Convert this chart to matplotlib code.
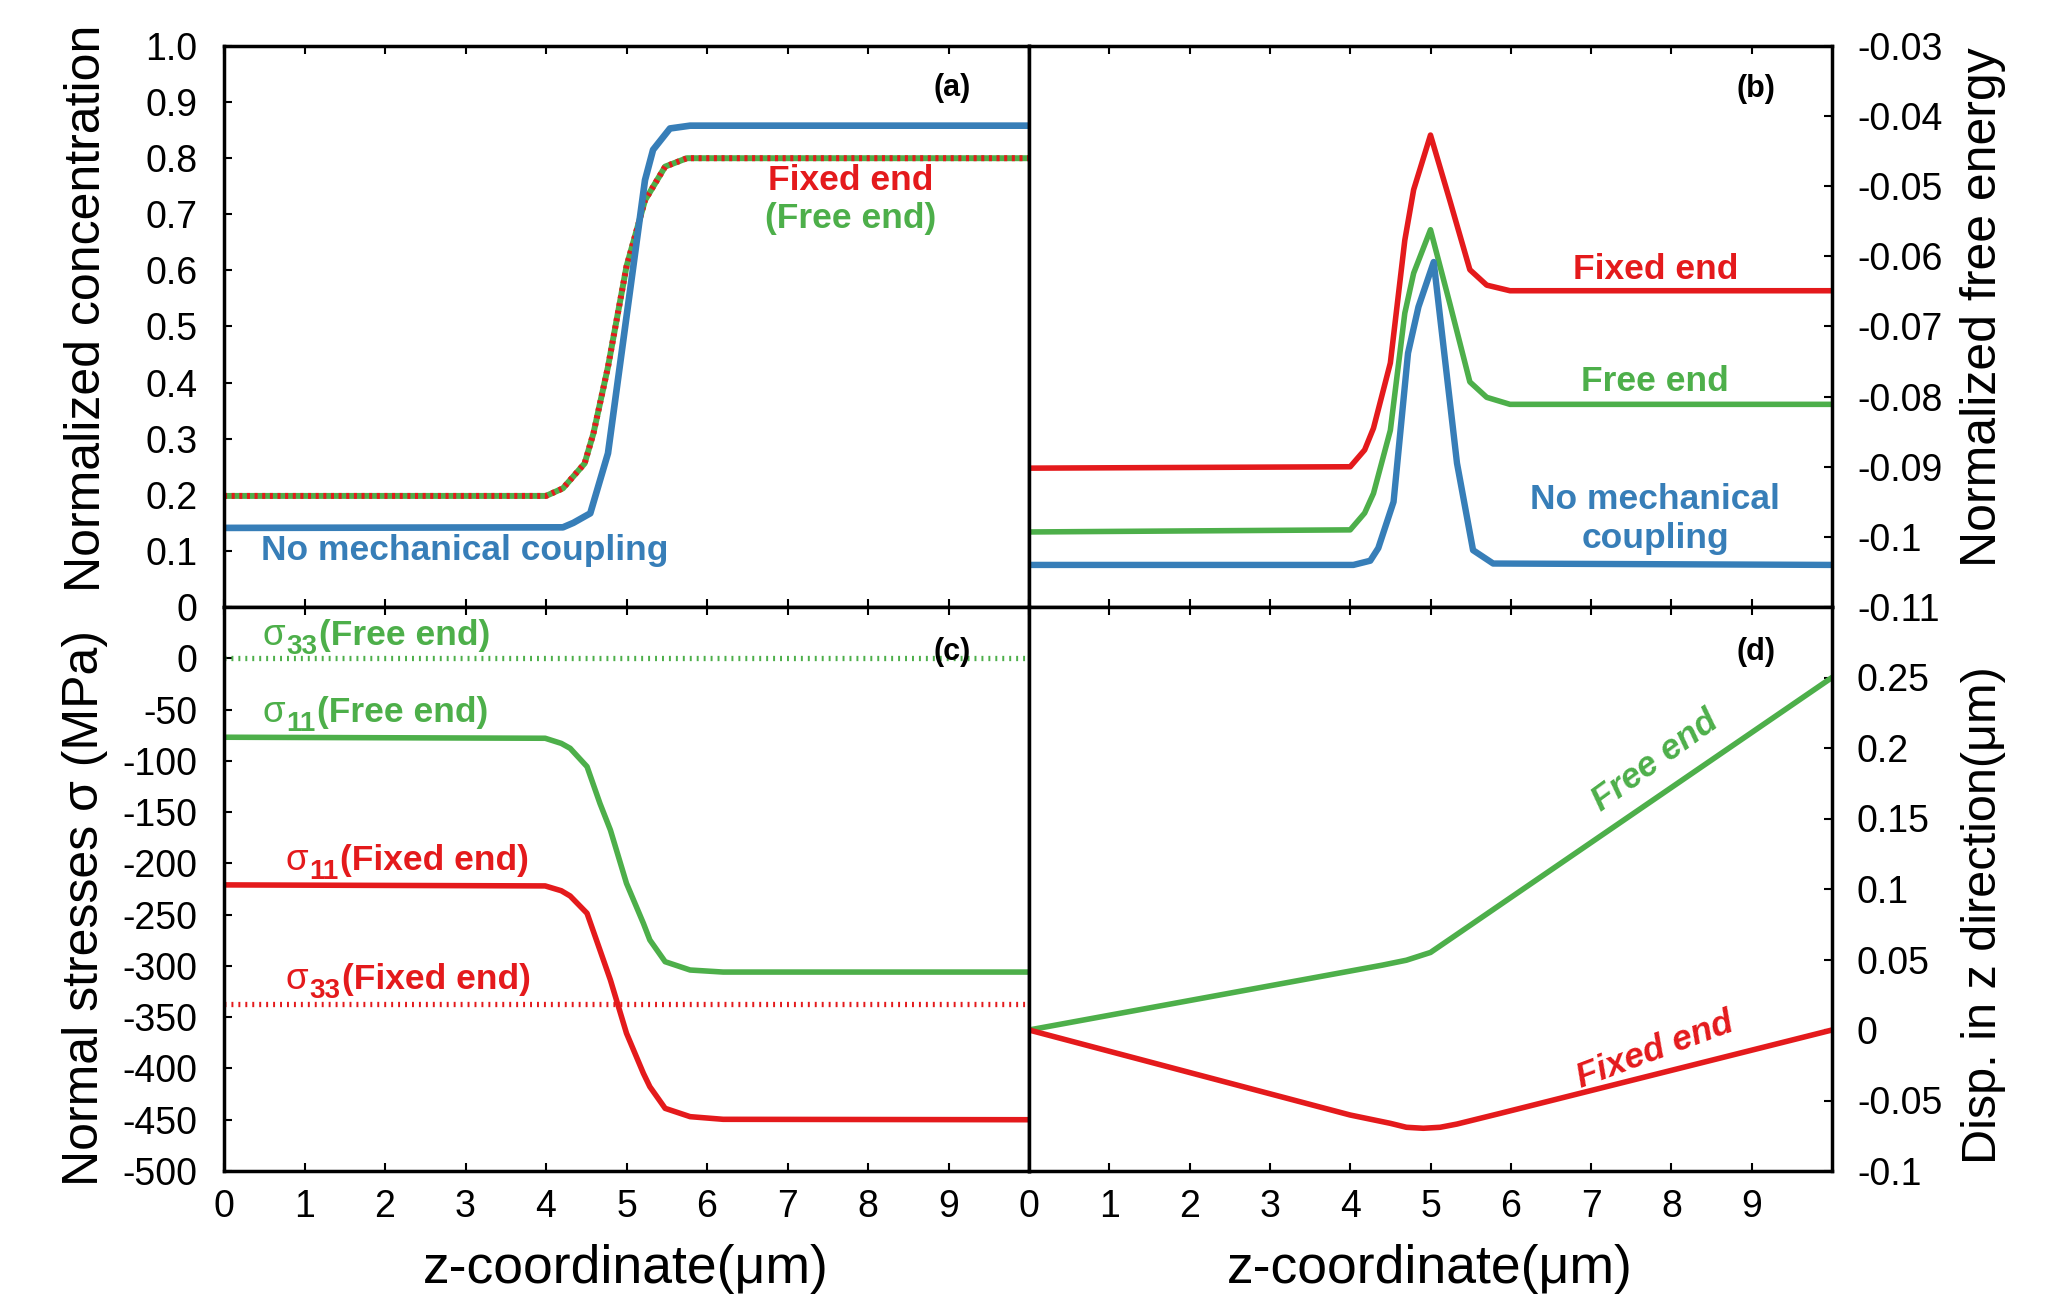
# four-panel figure: concentration, free energy, stresses, displacement vs z
import numpy as np
import matplotlib
matplotlib.use('Agg')
from matplotlib import pyplot as plt

plt.rcParams['font.family'] = ['Liberation Sans', 'DejaVu Sans']
plt.rcParams['lines.scale_dashes'] = False

RED = '#e41a1c'
GREEN = '#4daf4a'
BLUE = '#377eb8'

# ----------- data -----------
# (a) normalized concentration
z_conc_nomech = [0, 4.21, 4.34, 4.55, 4.77, 5.23, 5.33, 5.54, 5.79, 10]
conc_nomech = [0.141, 0.142, 0.150, 0.167, 0.274, 0.761, 0.815, 0.853, 0.858, 0.858]
z_conc_mech = [0, 4.0, 4.21, 4.48, 4.59, 4.77, 5.0, 5.23, 5.48, 5.75, 10]
conc_mech = [0.198, 0.198, 0.2115, 0.256, 0.31, 0.428, 0.607, 0.725, 0.785, 0.80, 0.80]

# (b) normalized free energy
z_fe = [0, 4.0, 4.18, 4.29, 4.5, 4.68, 4.79, 5.0, 5.24, 5.49, 5.70, 5.99, 10]
fe_fixed = [-0.0902, -0.0900, -0.0876, -0.0845, -0.0752, -0.0577, -0.0505, -0.0427,
            -0.0520, -0.0619, -0.0641, -0.0649, -0.0649]
fe_free = [-0.0993, -0.0990, -0.0966, -0.0938, -0.0848, -0.0681, -0.0624, -0.0562,
           -0.0667, -0.0779, -0.0801, -0.0811, -0.0811]
z_fe_nomech = [0, 4.04, 4.25, 4.35, 4.54, 4.72, 4.85, 5.04, 5.33, 5.53, 5.78, 10]
fe_nomech = [-0.1040, -0.1040, -0.1034, -0.1016, -0.0950, -0.0738, -0.0672, -0.0608,
             -0.0895, -0.1019, -0.1038, -0.1040]

# (c) normal stresses (MPa)
z_st = [0, 3.99, 4.19, 4.30, 4.51, 4.67, 4.80, 5.0, 5.21, 5.29, 5.48, 5.79, 6.2, 10]
s11_free = [-77, -78, -83, -87.8, -105.7, -141.5, -167.5, -219.5, -258.5, -274.7,
            -295.9, -304, -306, -306]
s11_fixed = [-221, -222, -226.7, -231.8, -248.7, -284.5, -313.7, -365.7, -404.8,
             -417.8, -438.9, -447, -449.6, -450]
z_s33 = [0, 10]
s33_free = [0, 0]
s33_fixed = [-337, -337]

# (d) displacement in z (um)
z_disp_free = [0, 3.97, 4.4, 4.7, 5.0, 5.27, 10]
disp_free = [0, 0.0415, 0.046, 0.0495, 0.055, 0.0655, 0.25]
z_disp_fixed = [0, 4.0, 4.5, 4.70, 4.91, 5.12, 5.33, 5.87, 10]
disp_fixed = [0, -0.0603, -0.0662, -0.0690, -0.0697, -0.0690, -0.0667, -0.0591, 0]

# ticks
xticks = list(range(10))
xticklabels = [str(i) for i in xticks]
yticks_a = [i / 10 for i in range(11)]
yticklabels_a = ['0', '0.1', '0.2', '0.3', '0.4', '0.5', '0.6', '0.7', '0.8', '0.9', '1.0']
yticks_b = [-0.11, -0.10, -0.09, -0.08, -0.07, -0.06, -0.05, -0.04, -0.03]
yticklabels_b = ['-0.11', '-0.1', '-0.09', '-0.08', '-0.07', '-0.06', '-0.05', '-0.04', '-0.03']
yticks_c = list(range(-500, 1, 50))
yticklabels_c = [str(v) for v in yticks_c]
yticks_d = [-0.1, -0.05, 0, 0.05, 0.1, 0.15, 0.2, 0.25]
yticklabels_d = ['-0.1', '-0.05', '0', '0.05', '0.1', '0.15', '0.2', '0.25']

# ----------- layout -----------
W, H = 2047, 1306
fig = plt.figure(figsize=(W / 100, H / 100), dpi=100)

x0, x1, x2 = 224 / W, 1029 / W, 1832 / W
y0, y1, y2 = 1 - 1171 / H, 1 - 607 / H, 1 - 46 / H

ax_a = fig.add_axes([x0, y1, x1 - x0, y2 - y1])
ax_b = fig.add_axes([x1, y1, x2 - x1, y2 - y1])
ax_c = fig.add_axes([x0, y0, x1 - x0, y1 - y0])
ax_d = fig.add_axes([x1, y0, x2 - x1, y1 - y0])

TICK = 27
LAB = 36
XLAB = 38.5
TXT = 25.5
PAN = 22

for ax in (ax_a, ax_b, ax_c, ax_d):
    ax.set_xlim(0, 10)
    ax.set_xticks(xticks)
    for s in ax.spines.values():
        s.set_linewidth(2.5)
    ax.tick_params(axis='x', which='both', direction='in', top=True, bottom=True,
                   length=6, width=1.5, labelsize=TICK, pad=13)
    ax.tick_params(axis='y', length=6, width=1.5, labelsize=TICK, pad=19)


def sigma_label(ax, x, y, sub, rest, color):
    # sigma + large lowered subscript + bold text, placed from the left baseline
    r = fig.canvas.get_renderer()
    t1 = ax.text(x, y, 'σ', color=color, fontsize=TXT + 1, ha='left', va='baseline')
    w1 = t1.get_window_extent(r).width
    t2 = ax.annotate(sub, xy=(x, y), xytext=(w1 + 0.5, -9), textcoords='offset pixels',
                     color=color, fontsize=20, fontweight='bold', ha='left', va='baseline')
    w2 = t2.get_window_extent(r).width
    ax.annotate(rest, xy=(x, y), xytext=(w1 + w2 + 2, 0), textcoords='offset pixels',
                color=color, fontsize=TXT, fontweight='bold', ha='left', va='baseline')


# (a)
ax_a.plot(z_conc_mech, conc_mech, '-', color=GREEN, lw=4.3)
ax_a.plot(z_conc_mech, conc_mech, color=RED, lw=4.3, dashes=(2.2, 3.3))
ax_a.plot(z_conc_nomech, conc_nomech, '-', color=BLUE, lw=4.8)
ax_a.set_ylim(0, 1)
ax_a.set_yticks(yticks_a)
ax_a.set_yticklabels(yticklabels_a)
ax_a.tick_params(axis='y', direction='in', left=True, right=False)
ax_a.tick_params(axis='x', labelbottom=False)
ax_a.text(7.79, 0.761, 'Fixed end', color=RED, fontsize=TXT, fontweight='bold', ha='center', va='center')
ax_a.text(7.79, 0.692, '(Free end)', color=GREEN, fontsize=TXT, fontweight='bold', ha='center', va='center')
ax_a.text(2.99, 0.10, 'No mechanical coupling', color=BLUE, fontsize=TXT, fontweight='bold', ha='center', va='center')
ax_a.text(9.04, 0.925, '(a)', fontsize=PAN, fontweight='bold', ha='center', va='center')

# (b)
ax_b.plot(z_fe, fe_fixed, '-', color=RED, lw=4.0)
ax_b.plot(z_fe, fe_free, '-', color=GREEN, lw=4.0)
ax_b.plot(z_fe_nomech, fe_nomech, '-', color=BLUE, lw=4.6)
ax_b.set_ylim(-0.11, -0.03)
ax_b.yaxis.tick_right()
ax_b.set_yticks(yticks_b)
ax_b.set_yticklabels(yticklabels_b)
ax_b.tick_params(axis='y', direction='in', left=False, right=True, labelleft=False,
                 labelright=True, pad=18)
ax_b.tick_params(axis='x', labelbottom=False)
ax_b.text(7.80, -0.0619, 'Fixed end', color=RED, fontsize=TXT, fontweight='bold', ha='center', va='center')
ax_b.text(7.80, -0.0779, 'Free end', color=GREEN, fontsize=TXT, fontweight='bold', ha='center', va='center')
ax_b.text(7.80, -0.0947, 'No mechanical', color=BLUE, fontsize=TXT, fontweight='bold', ha='center', va='center')
ax_b.text(7.80, -0.1002, 'coupling', color=BLUE, fontsize=TXT, fontweight='bold', ha='center', va='center')
ax_b.text(9.05, -0.0361, '(b)', fontsize=PAN, fontweight='bold', ha='center', va='center')

# (c)
ax_c.plot(z_st, s11_free, '-', color=GREEN, lw=4.0)
ax_c.plot(z_st, s11_fixed, '-', color=RED, lw=4.0)
ax_c.plot(z_s33, s33_free, color=GREEN, lw=3.8, dashes=(1.4, 3.6))
ax_c.plot(z_s33, s33_fixed, color=RED, lw=3.8, dashes=(1.4, 3.6))
ax_c.set_ylim(-500, 50)
ax_c.set_yticks(yticks_c)
ax_c.set_yticklabels(yticklabels_c)
ax_c.tick_params(axis='y', direction='in', left=True, right=False)
ax_c.set_xticklabels(xticklabels)
sigma_label(ax_c, 0.484, 12.9, '33', '(Free end)', GREEN)
sigma_label(ax_c, 0.484, -61.8, '11', '(Free end)', GREEN)
sigma_label(ax_c, 0.770, -206.5, '11', '(Fixed end)', RED)
sigma_label(ax_c, 0.770, -323.0, '33', '(Fixed end)', RED)
ax_c.text(9.04, 6.1, '(c)', fontsize=PAN, fontweight='bold', ha='center', va='center')

# (d)
ax_d.plot(z_disp_free, disp_free, '-', color=GREEN, lw=4.0)
ax_d.plot(z_disp_fixed, disp_fixed, '-', color=RED, lw=4.0)
ax_d.set_ylim(-0.1, 0.3)
ax_d.yaxis.tick_right()
ax_d.set_yticks(yticks_d)
ax_d.set_yticklabels(yticklabels_d)
ax_d.tick_params(axis='y', direction='in', left=False, right=True, labelleft=False,
                 labelright=True, pad=18)
ax_d.set_xticklabels(xticklabels)
ax_d.text(7.80, 0.1908, 'Free end', color=GREEN, fontsize=TXT, fontweight='bold', style='italic',
          rotation=36, ha='center', va='center', rotation_mode='anchor')
ax_d.text(7.80, -0.0142, 'Fixed end', color=RED, fontsize=TXT, fontweight='bold', style='italic',
          rotation=20.5, ha='center', va='center', rotation_mode='anchor')
ax_d.text(9.05, 0.268, '(d)', fontsize=PAN, fontweight='bold', ha='center', va='center')

# axis titles
fig.text(87 / W, 1 - 308 / H, 'Normalized concentration', fontsize=LAB, rotation=90, ha='center', va='center')
fig.text(85 / W, 1 - 908 / H, 'Normal stresses σ (MPa)', fontsize=LAB, rotation=90, ha='center', va='center')
fig.text(1983 / W, 1 - 307 / H, 'Normalized free energy', fontsize=LAB, rotation=90, ha='center', va='center')
fig.text(1983 / W, 1 - 915 / H, 'Disp. in z direction(μm)', fontsize=35, rotation=90, ha='center', va='center')
fig.text(626 / W, 1 - 1269 / H, 'z-coordinate(μm)', fontsize=XLAB, ha='center', va='center')
fig.text(1430 / W, 1 - 1269 / H, 'z-coordinate(μm)', fontsize=XLAB, ha='center', va='center')

plt.savefig('out.png', format='png', dpi=100)
plt.close()
